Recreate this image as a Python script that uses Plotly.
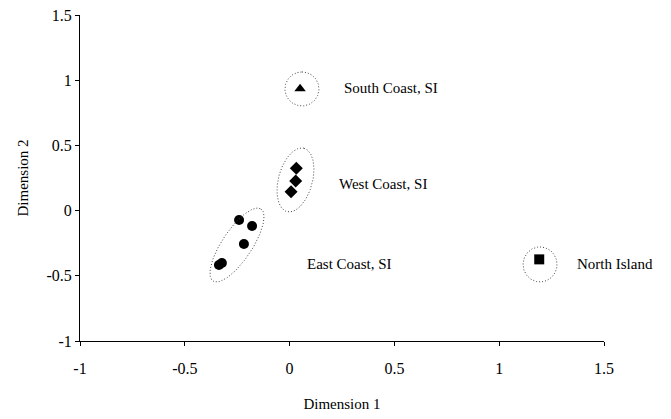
import numpy as np
import plotly.graph_objects as go

# Data
east_x = [-0.241, -0.179, -0.218, -0.323, -0.337]
east_y = [-0.072, -0.118, -0.256, -0.402, -0.417]
west_x = [0.032, 0.029, 0.007]
west_y = [0.324, 0.227, 0.145]
south_x = [0.05]
south_y = [0.935]
north_x = [1.191]
north_y = [-0.374]

x_ticks = [-1, -0.5, 0, 0.5, 1, 1.5]
y_ticks = [-1, -0.5, 0, 0.5, 1, 1.5]

group_labels = ["South Coast, SI", "West Coast, SI", "East Coast, SI", "North Island"]
label_x = [0.25, 0.226, 0.073, 1.362]
label_y = [0.94, 0.204, -0.41, -0.41]

# Ellipse outlines: centre (data), semi-axes (px), tilt from vertical (deg)
ell_cx = [0.059, 0.028, -0.251, 1.195]
ell_cy = [0.933, 0.235, -0.264, -0.413]
ell_a = [17, 32.8, 43.3, 17.5]
ell_b = [17, 17, 15, 17]
ell_t = [0, 15, 33.6, 0]

W, H = 663, 411
ml, mr, mt, mb = 72, 67, 7, 78
sx = (W - ml - mr) / 2.5
sy = (H - mt - mb) / 2.5

font = "Liberation Serif, Times New Roman, serif"
fig = go.Figure()

mk = dict(color="black")
fig.add_trace(go.Scatter(x=east_x, y=east_y, mode="markers",
                         marker=dict(symbol="circle", size=10, **mk)))
fig.add_trace(go.Scatter(x=west_x, y=west_y, mode="markers",
                         marker=dict(symbol="diamond", size=10, **mk)))
fig.add_trace(go.Scatter(x=south_x, y=south_y, mode="markers",
                         marker=dict(symbol="triangle-up", size=10, **mk)))
fig.add_trace(go.Scatter(x=north_x, y=north_y, mode="markers",
                         marker=dict(symbol="square", size=10, **mk)))

t = np.linspace(0, 2 * np.pi, 160)
for cx, cy, a, b, th in zip(ell_cx, ell_cy, ell_a, ell_b, ell_t):
    r = np.radians(th)
    ux, uy = np.sin(r), np.cos(r)      # major direction
    vx, vy = np.cos(r), -np.sin(r)     # minor direction
    px = a * np.cos(t) * ux + b * np.sin(t) * vx
    py = a * np.cos(t) * uy + b * np.sin(t) * vy
    fig.add_trace(go.Scatter(x=cx + px / sx, y=cy + py / sy, mode="lines",
                             line=dict(color="#444444", width=1, dash="1px,2px"),
                             hoverinfo="skip"))

for txt, lx, ly in zip(group_labels, label_x, label_y):
    fig.add_annotation(x=lx, y=ly, text=txt, showarrow=False, xanchor="left",
                       yanchor="middle", font=dict(family=font, size=15, color="black"))

axis_common = dict(showgrid=False, zeroline=False, showline=True, linecolor="black",
                   linewidth=1, ticks="outside", ticklen=4, tickcolor="black",
                   ticklabeloverflow="allow", automargin=False,
                   tickfont=dict(family=font, size=16, color="black"))
fig.update_xaxes(range=[-1, 1.5], tickvals=x_ticks, ticktext=[str(v) for v in x_ticks],
                 ticklabelstandoff=9,
                 title=dict(text="Dimension 1", font=dict(family=font, size=15, color="black"), standoff=22),
                 **axis_common)
fig.update_yaxes(range=[-1, 1.5], tickvals=y_ticks, ticktext=[str(v) for v in y_ticks],
                 title=dict(text="Dimension 2", font=dict(family=font, size=15, color="black"), standoff=14),
                 **axis_common)
fig.update_layout(width=W, height=H,
                  margin=dict(l=ml, r=mr, t=mt, b=mb, autoexpand=False),
                  plot_bgcolor="white", paper_bgcolor="white", showlegend=False)
fig.write_html("out.html")
